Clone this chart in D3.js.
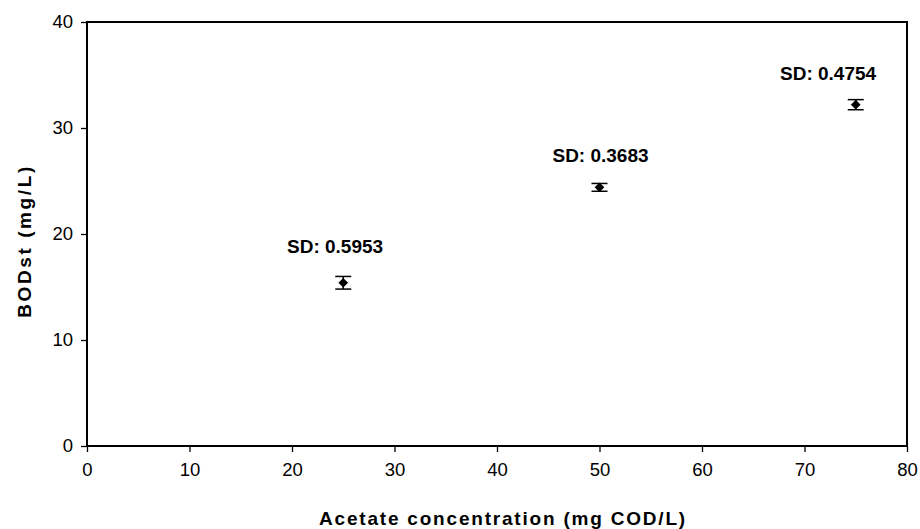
<!DOCTYPE html>
<html>
<head>
<meta charset="utf-8"/>
<title>BODst vs acetate</title>
<script src="https://d3js.org/d3.v7.min.js"></script>
<style>
  body { margin: 0; background: #fff; }
  text { font-family: "Liberation Sans", Arial, sans-serif; fill: #000; }
  .title { font-size: 19px; font-weight: bold; letter-spacing: 1.8px; }
  .ytitle { letter-spacing: 2.6px; }
  .sd { font-size: 19px; font-weight: bold; }
</style>
</head>
<body>
<svg width="920" height="529"></svg>
<script>
// data
const conc = [25, 50, 75];            // mg COD/L
const bod = [15.4, 24.4, 32.2];       // mg/L
const sd = [0.5953, 0.3683, 0.4754];
const sdText = ["SD: 0.5953", "SD: 0.3683", "SD: 0.4754"];
const labelX = [24.2, 50.1, 72.3];    // label anchor in data units
const labelY = [18.2, 26.8, 34.5];
const xTicks = [0, 10, 20, 30, 40, 50, 60, 70, 80];
const yTicks = [0, 10, 20, 30, 40];

const svg = d3.select("svg");
const m = {left: 87, top: 22, right: 907, bottom: 446};

const x = d3.scaleLinear().domain([0, 80]).range([m.left, m.right]);
const y = d3.scaleLinear().domain([0, 40]).range([m.bottom, m.top]);

// axes
const xAxis = svg.append("g")
  .attr("transform", `translate(0,${m.bottom})`)
  .call(d3.axisBottom(x).tickValues(xTicks).tickSize(6).tickPadding(11));
const yAxis = svg.append("g")
  .attr("transform", `translate(${m.left},0)`)
  .call(d3.axisLeft(y).tickValues(yTicks).tickSize(6).tickPadding(8));
[xAxis, yAxis].forEach(a => {
  a.select(".domain").remove();
  a.attr("font-family", null).attr("font-size", null);
  a.selectAll("line").attr("stroke", "#000").attr("stroke-width", 1.3);
  a.selectAll("text").attr("fill", "#000").style("font-size", "18.5px");
});

// plot frame
svg.append("rect")
  .attr("x", m.left).attr("y", m.top)
  .attr("width", m.right - m.left).attr("height", m.bottom - m.top)
  .attr("fill", "none").attr("stroke", "#000").attr("stroke-width", 2);

// error bars
const pts = conc.map((c, i) => ({c, v: bod[i], s: sd[i], t: sdText[i], lx: labelX[i], ly: labelY[i]}));
const eb = svg.append("g").attr("stroke", "#000").attr("stroke-width", 1.5);
pts.forEach(d => {
  eb.append("line").attr("x1", x(d.c)).attr("x2", x(d.c))
    .attr("y1", y(d.v - d.s)).attr("y2", y(d.v + d.s));
  [d.v - d.s, d.v + d.s].forEach(e => {
    eb.append("line").attr("x1", x(d.c) - 8).attr("x2", x(d.c) + 8)
      .attr("y1", y(e)).attr("y2", y(e));
  });
});

// diamond markers
svg.selectAll("path.pt").data(pts).enter().append("path")
  .attr("class", "pt")
  .attr("d", d3.symbol(d3.symbolDiamond2, 60))
  .attr("transform", d => `translate(${x(d.c)},${y(d.v)})`)
  .attr("fill", "#000");

// SD labels
svg.selectAll("text.sd").data(pts).enter().append("text")
  .attr("class", "sd")
  .attr("x", d => x(d.lx)).attr("y", d => y(d.ly))
  .attr("text-anchor", "middle")
  .text(d => d.t);

// axis titles
svg.append("text").attr("class", "title")
  .attr("x", 503).attr("y", 525)
  .attr("text-anchor", "middle")
  .text("Acetate concentration (mg COD/L)");
svg.append("text").attr("class", "title ytitle")
  .attr("transform", `translate(31,241) rotate(-90)`)
  .attr("text-anchor", "middle")
  .text("BODst (mg/L)");
</script>
</body>
</html>
